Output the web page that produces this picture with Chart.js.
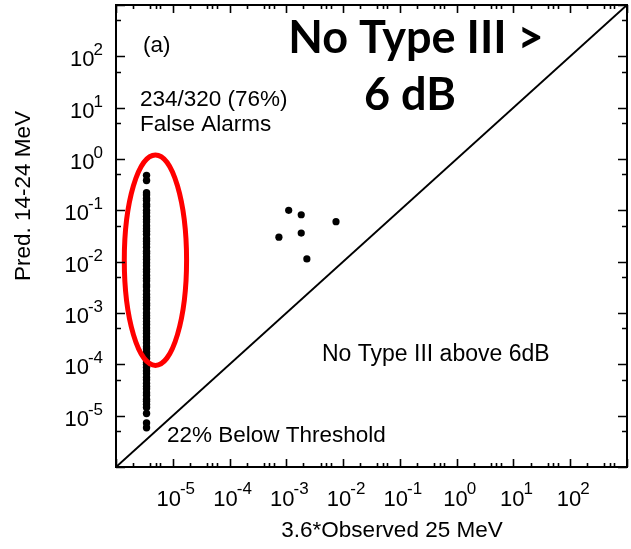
<!DOCTYPE html>
<html>
<head>
<meta charset="utf-8">
<script src="https://cdn.jsdelivr.net/npm/chart.js@4.4.1/dist/chart.umd.min.js"></script>
<style>
  html, body { margin: 0; padding: 0; background: #fff; }
</style>
</head>
<body>
<canvas id="chart" width="631" height="549"></canvas>
<script>
// events below the 25 MeV threshold, plotted at a fixed observed value
var colX = 3.45e-6;
var colY = [
	4.8e-1, 3.8e-1,
	2.2e-1, 2.0e-1, 1.7e-1, 1.55e-1, 1.3e-1, 1.2e-1, 1.0e-1, 8.9e-2, 7.6e-2, 6.6e-2,
	5.9e-2, 5.0e-2, 4.4e-2, 3.9e-2, 3.4e-2, 2.8e-2, 2.5e-2, 2.2e-2, 1.9e-2, 1.6e-2,
	1.45e-2, 1.25e-2, 1.1e-2, 9.5e-3, 8.3e-3, 7.1e-3, 6.3e-3, 5.4e-3, 4.7e-3, 4.2e-3,
	3.5e-3, 3.2e-3, 2.7e-3, 2.3e-3, 2.0e-3, 1.8e-3, 1.55e-3, 1.4e-3, 1.2e-3, 1.0e-3,
	8.9e-4, 7.9e-4, 6.8e-4, 6.0e-4, 5.1e-4, 4.5e-4, 4.0e-4, 3.4e-4, 3.0e-4, 2.6e-4,
	2.2e-4, 2.0e-4, 1.7e-4, 1.5e-4, 1.3e-4, 1.1e-4, 1.0e-4, 8.7e-5, 7.4e-5, 6.6e-5,
	5.6e-5, 5.0e-5, 4.3e-5, 3.7e-5, 3.3e-5, 2.8e-5, 2.5e-5, 2.1e-5, 1.9e-5, 1.65e-5,
	1.45e-5,
	1.1e-5, 7.2e-6, 5.8e-6
];

// events above threshold
var obsX = [7.4e-4, 1.1e-3, 1.83e-3, 1.83e-3, 2.3e-3, 7.5e-3];
var obsY = [3.0e-2, 1.0e-1, 8.2e-2, 3.6e-2, 1.13e-2, 6.0e-2];

// one-to-one line
var diagX = [1e-6, 1e3];
var diagY = [1e-6, 1e3];

// axis range and ticks (powers of ten)
var axisMin = 1e-6;
var axisMax = 1e3;
var majorExp = [-6, -5, -4, -3, -2, -1, 0, 1, 2, 3];
var labelExp = [-5, -4, -3, -2, -1, 0, 1, 2];
var xMinor = [2, 4, 5, 6];
var yMinor = [5];

// red ring around the false alarms (data coords)
var ringX = [1.4e-6, 1.75e-5];
var ringY = [9.5e-5, 1.2];

var fontFam = '"Liberation Sans", Arial, Helvetica, sans-serif';

function pts(xs, ys) {
	return ys.map(function(y, i) { return { x: Array.isArray(xs) ? xs[i] : xs, y: y }; });
}

// frame, inward ticks, labels and notes
var decorPlugin = {
	id: 'decor',
	afterDatasetsDraw: function(chart) {
		var ctx = chart.ctx;
		var xs = chart.scales.x, ys = chart.scales.y;

		// ring
		var l = xs.getPixelForValue(ringX[0]), r = xs.getPixelForValue(ringX[1]);
		var t = ys.getPixelForValue(ringY[1]), b = ys.getPixelForValue(ringY[0]);
		ctx.save();
		ctx.strokeStyle = '#f00';
		ctx.lineWidth = 5;
		ctx.beginPath();
		ctx.ellipse((l + r) / 2, (t + b) / 2, (r - l) / 2, (b - t) / 2, 0, 0, Math.PI * 2);
		ctx.stroke();
		ctx.restore();
	},
	afterDraw: function(chart) {
		var ctx = chart.ctx;
		var xs = chart.scales.x, ys = chart.scales.y;
		var a = chart.chartArea;

		ctx.save();
		ctx.strokeStyle = '#000';
		ctx.lineWidth = 2;
		ctx.strokeRect(a.left, a.top, a.right - a.left, a.bottom - a.top);

		// ticks on all four sides
		ctx.lineWidth = 1.6;
		ctx.beginPath();
		majorExp.forEach(function(e) {
			var px = Math.round(xs.getPixelForValue(Math.pow(10, e))) + 0.5;
			var py = Math.round(ys.getPixelForValue(Math.pow(10, e))) + 0.5;
			ctx.moveTo(px, a.bottom); ctx.lineTo(px, a.bottom - 8);
			ctx.moveTo(px, a.top); ctx.lineTo(px, a.top + 8);
			ctx.moveTo(a.left, py); ctx.lineTo(a.left + 9, py);
			ctx.moveTo(a.right, py); ctx.lineTo(a.right - 9, py);
			if (e === 3) return;
			xMinor.forEach(function(m) {
				var mx = Math.round(xs.getPixelForValue(m * Math.pow(10, e))) + 0.5;
				ctx.moveTo(mx, a.bottom); ctx.lineTo(mx, a.bottom - 4);
				ctx.moveTo(mx, a.top); ctx.lineTo(mx, a.top + 4);
			});
			yMinor.forEach(function(m) {
				var my = Math.round(ys.getPixelForValue(m * Math.pow(10, e))) + 0.5;
				ctx.moveTo(a.left, my); ctx.lineTo(a.left + 5, my);
				ctx.moveTo(a.right, my); ctx.lineTo(a.right - 5, my);
			});
		});
		ctx.stroke();

		// tick labels: 10 with a raised exponent
		ctx.fillStyle = '#000';
		ctx.textBaseline = 'alphabetic';
		ctx.textAlign = 'left';
		labelExp.forEach(function(e) {
			ctx.font = '22px ' + fontFam;
			var w10 = ctx.measureText('10').width;
			ctx.font = '17px ' + fontFam;
			var ex = String(e);
			var we = ctx.measureText(ex).width;
			var total = w10 + we - 1;

			// x axis
			var px = xs.getPixelForValue(Math.pow(10, e));
			var x0 = px - total / 2 + 3;
			ctx.font = '22px ' + fontFam;
			ctx.fillText('10', x0, 506);
			ctx.font = '17px ' + fontFam;
			ctx.fillText(ex, x0 + w10 - 1, 494);

			// y axis
			var py = ys.getPixelForValue(Math.pow(10, e));
			var y0 = 103 - total;
			ctx.font = '22px ' + fontFam;
			ctx.fillText('10', y0, py + 10);
			ctx.font = '17px ' + fontFam;
			ctx.fillText(ex, y0 + w10 - 1, py - 1);
		});

		// axis titles
		ctx.font = '22.5px ' + fontFam;
		ctx.textAlign = 'center';
		ctx.textBaseline = 'middle';
		ctx.fillText('3.6*Observed 25 MeV', 392, 531);
		ctx.save();
		ctx.translate(24, 196);
		ctx.rotate(-Math.PI / 2);
		ctx.fillText('Pred. 14-24 MeV', 0, 0);
		ctx.restore();

		// notes
		ctx.textAlign = 'left';
		ctx.textBaseline = 'alphabetic';
		ctx.font = '22.5px ' + fontFam;
		ctx.fillText('(a)', 143, 52);
		ctx.fillText('234/320 (76%)', 140, 106);
		ctx.fillText('False Alarms', 140, 131);
		ctx.fillText('22% Below Threshold', 167, 442);
		ctx.font = '23px ' + fontFam;
		ctx.fillText('No Type III above 6dB', 322, 361);

		ctx.font = 'bold 45px Lato, "Open Sans", sans-serif';
		ctx.textAlign = 'center';
		ctx.fillText('No Type III >', 416, 53);
		ctx.fillText('6 dB', 410, 110);
		ctx.restore();
	}
};

var ctx = document.getElementById('chart').getContext('2d');
var chart = new Chart(ctx, {
	type: 'scatter',
	data: {
		datasets: [{
			label: 'below threshold',
			data: pts(colX, colY),
			pointRadius: 3.7,
			pointBackgroundColor: '#000',
			pointBorderWidth: 0
		}, {
			label: 'observed',
			data: pts(obsX, obsY),
			pointRadius: 3.6,
			pointBackgroundColor: '#000',
			pointBorderWidth: 0
		}, {
			label: 'one to one',
			data: pts(diagX, diagY),
			showLine: true,
			borderColor: '#000',
			borderWidth: 2,
			pointRadius: 0
		}]
	},
	options: {
		responsive: false,
		animation: false,
		layout: { padding: { left: 116, right: 1, top: 5, bottom: 82 } },
		plugins: {
			legend: { display: false },
			tooltip: { enabled: false }
		},
		scales: {
			x: { type: 'logarithmic', min: axisMin, max: axisMax, display: false },
			y: { type: 'logarithmic', min: axisMin, max: axisMax, display: false }
		}
	},
	plugins: [decorPlugin]
});
</script>
</body>
</html>
